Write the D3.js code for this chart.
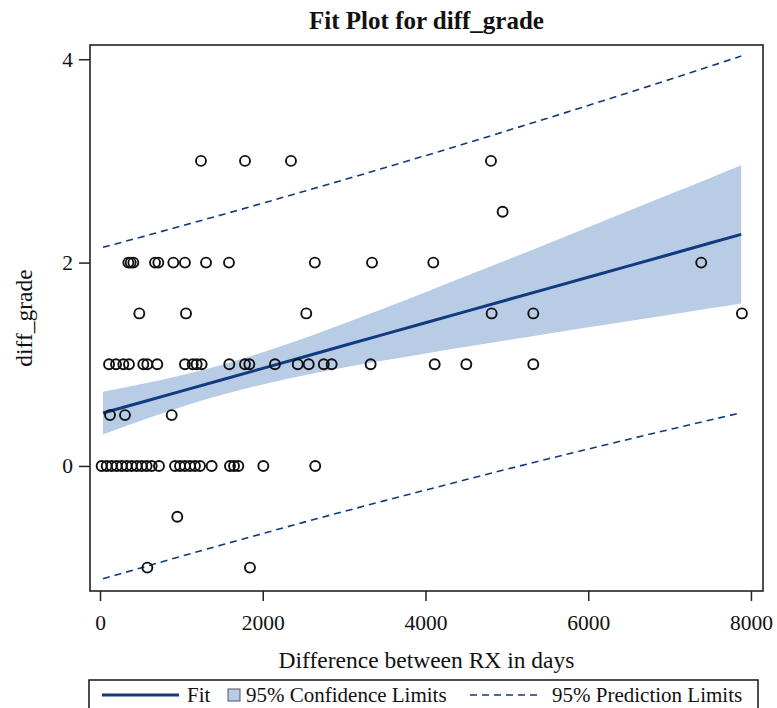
<!DOCTYPE html>
<html>
<head>
<meta charset="utf-8">
<script src="https://cdn.jsdelivr.net/npm/d3@7"></script>
<style>
  html, body { margin: 0; padding: 0; background: #fff; }
  svg { display: block; }
  text { font-family: "Liberation Serif", "Times New Roman", serif; fill: #111; }
</style>
</head>
<body>
<svg id="chart" width="777" height="708"></svg>
<script>
// ---- data ----
const pointsY1   = [111, 197, 287, 356, 532, 581, 704, 1044, 1139, 1188, 1249, 1589, 1782, 1835, 2150, 2430, 2565, 2750, 2847, 3326, 4113, 4502, 5325];
const pointsY0   = [20, 82, 143, 205, 266, 328, 389, 451, 512, 573, 635, 725, 922, 983, 1044, 1106, 1167, 1229, 1372, 1597, 1647, 1700, 2007, 2645];
const pointsY05  = [123, 307, 881];
const pointsY15  = [483, 1057, 2535, 4813, 5325, 7889];
const pointsY2   = [348, 377, 410, 676, 717, 901, 1044, 1303, 1585, 2640, 3343, 4096, 7389];
const pointsY25  = [4948];
const pointsY3   = [1241, 1782, 2347, 4805];
const pointsYm05 = [950];
const pointsYm1  = [582, 1843];

// fit, confidence and prediction limits sampled along x
const bandX   = [37, 500, 1000, 1500, 2000, 2500, 3000, 3500, 4000, 4500, 5000, 5500, 6000, 6500, 7000, 7500, 7880];
const fitY    = [0.520, 0.624, 0.736, 0.848, 0.960, 1.072, 1.184, 1.296, 1.408, 1.520, 1.632, 1.744, 1.856, 1.968, 2.080, 2.192, 2.277];
const clLower = [0.310, 0.444, 0.580, 0.699, 0.802, 0.889, 0.967, 1.039, 1.107, 1.173, 1.237, 1.301, 1.364, 1.426, 1.488, 1.550, 1.597];
const clUpper = [0.730, 0.803, 0.892, 0.996, 1.118, 1.254, 1.401, 1.553, 1.709, 1.867, 2.026, 2.186, 2.347, 2.509, 2.671, 2.833, 2.957];
const plLower = [-1.110, -1.003, -0.888, -0.776, -0.665, -0.555, -0.447, -0.341, -0.237, -0.134, -0.032, 0.068, 0.166, 0.263, 0.358, 0.452, 0.523];
const plUpper = [2.150, 2.250, 2.360, 2.471, 2.584, 2.699, 2.815, 2.933, 3.052, 3.173, 3.296, 3.420, 3.545, 3.672, 3.801, 3.931, 4.031];

const xTicks = [0, 2000, 4000, 6000, 8000];
const yTicks = [0, 2, 4];

const titleText  = "Fit Plot for diff_grade";
const xLabelText = "Difference between RX in days";
const yLabelText = "diff_grade";
const legendLabels = ["Fit", "95% Confidence Limits", "95% Prediction Limits"];

// ---- layout ----
const svg = d3.select("#chart");
const L = 90, R = 763, T = 45, B = 591;
const navy = "#113a80";
const bandFill = "#b8cce5";

const x = d3.scaleLinear().domain([-123, 8148]).range([L, R]);
const y = d3.scaleLinear().domain([-1.23, 4.14]).range([B, T]);

svg.append("clipPath").attr("id", "clip")
  .append("rect").attr("x", L).attr("y", T).attr("width", R - L).attr("height", B - T);

const plot = svg.append("g").attr("clip-path", "url(#clip)");

const idx = d3.range(bandX.length);

// confidence band
plot.append("path")
  .datum(idx)
  .attr("fill", bandFill)
  .attr("d", d3.area()
    .x(i => x(bandX[i]))
    .y0(i => y(clLower[i]))
    .y1(i => y(clUpper[i]))
    .curve(d3.curveMonotoneX));

// prediction limits
[plLower, plUpper].forEach(arr => {
  plot.append("path")
    .datum(idx)
    .attr("fill", "none")
    .attr("stroke", navy)
    .attr("stroke-width", 1.6)
    .attr("stroke-dasharray", "7,5")
    .attr("d", d3.line().x(i => x(bandX[i])).y(i => y(arr[i])).curve(d3.curveMonotoneX));
});

// fit line
plot.append("path")
  .datum(idx)
  .attr("fill", "none")
  .attr("stroke", navy)
  .attr("stroke-width", 3)
  .attr("d", d3.line().x(i => x(bandX[i])).y(i => y(fitY[i])));

// points
const groups = [
  [pointsY1, 1], [pointsY0, 0], [pointsY05, 0.5], [pointsY15, 1.5], [pointsY2, 2],
  [pointsY25, 2.5], [pointsY3, 3], [pointsYm05, -0.5], [pointsYm1, -1]
];
const pts = [];
groups.forEach(([xs, v]) => xs.forEach(d => pts.push({ x: d, y: v })));

svg.append("g").selectAll("circle")
  .data(pts)
  .join("circle")
  .attr("cx", d => x(d.x))
  .attr("cy", d => y(d.y))
  .attr("r", 5)
  .attr("fill", "none")
  .attr("stroke", "#111")
  .attr("stroke-width", 1.9);

// frame
svg.append("rect")
  .attr("x", L).attr("y", T).attr("width", R - L).attr("height", B - T)
  .attr("fill", "none").attr("stroke", "#222").attr("stroke-width", 1.6);

// x axis
const xAxis = d3.axisBottom(x).tickValues(xTicks).tickSize(10).tickPadding(14).tickFormat(d3.format("d"));
const gx = svg.append("g").attr("transform", `translate(0,${B})`).call(xAxis);
gx.select(".domain").remove();
gx.selectAll(".tick line").attr("stroke", "#222").attr("stroke-width", 1.5);
gx.selectAll(".tick text").attr("font-size", 21.5).attr("fill", "#222")
  .attr("font-family", '"Liberation Serif", "Times New Roman", serif');

// y axis
const yAxis = d3.axisLeft(y).tickValues(yTicks).tickSize(11).tickPadding(6).tickFormat(d3.format("d"));
const gy = svg.append("g").attr("transform", `translate(${L},0)`).call(yAxis);
gy.select(".domain").remove();
gy.selectAll(".tick line").attr("stroke", "#222").attr("stroke-width", 1.5);
gy.selectAll(".tick text").attr("font-size", 21.5).attr("fill", "#222")
  .attr("font-family", '"Liberation Serif", "Times New Roman", serif');

// title
svg.append("text")
  .attr("x", (L + R) / 2).attr("y", 29)
  .attr("text-anchor", "middle")
  .attr("font-size", 25).attr("font-weight", "bold")
  .text(titleText);

// axis labels
svg.append("text")
  .attr("x", (L + R) / 2).attr("y", 668)
  .attr("text-anchor", "middle")
  .attr("font-size", 23.5)
  .text(xLabelText);

svg.append("text")
  .attr("transform", `translate(32,${(T + B) / 2}) rotate(-90)`)
  .attr("text-anchor", "middle")
  .attr("font-size", 23.5)
  .text(yLabelText);

// legend
const lg = svg.append("g");
const ly = 695;
lg.append("rect").attr("x", 89).attr("y", 680).attr("width", 669).attr("height", 40)
  .attr("fill", "none").attr("stroke", "#222").attr("stroke-width", 1.6);
lg.append("line").attr("x1", 102).attr("x2", 179).attr("y1", ly).attr("y2", ly)
  .attr("stroke", navy).attr("stroke-width", 3);
lg.append("text").attr("x", 187).attr("y", ly).attr("dy", "0.35em")
  .attr("font-size", 21).text(legendLabels[0]);
lg.append("rect").attr("x", 228).attr("y", ly - 6).attr("width", 12).attr("height", 12)
  .attr("fill", bandFill).attr("stroke", "#556").attr("stroke-width", 1);
lg.append("text").attr("x", 246).attr("y", ly).attr("dy", "0.35em")
  .attr("font-size", 21).text(legendLabels[1]);
lg.append("line").attr("x1", 470).attr("x2", 538).attr("y1", ly).attr("y2", ly)
  .attr("stroke", navy).attr("stroke-width", 1.6).attr("stroke-dasharray", "7,5");
lg.append("text").attr("x", 552).attr("y", ly).attr("dy", "0.35em")
  .attr("font-size", 21).text(legendLabels[2]);
</script>
</body>
</html>
